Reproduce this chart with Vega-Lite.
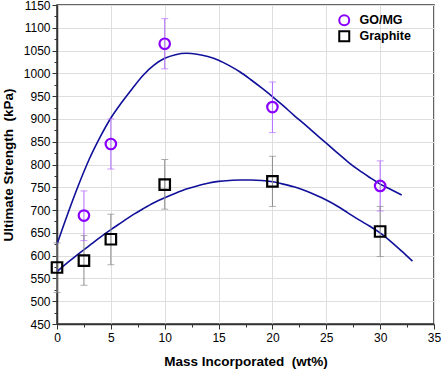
{
  "$schema": "https://vega.github.io/schema/vega-lite/v6.json",
  "width": 377,
  "height": 319,
  "autosize": {"type": "none"},
  "padding": {"left": 57, "top": 5, "right": 7, "bottom": 47},
  "config": {
    "font": "Liberation Sans",
    "view": {"stroke": "#333333", "strokeWidth": 1.5},
    "axis": {
      "labelFont": "Liberation Sans",
      "labelFontSize": 12,
      "labelColor": "#000000",
      "titleFont": "Liberation Sans",
      "titleFontSize": 13.5,
      "titleFontWeight": "bold",
      "titleColor": "#000000",
      "domainColor": "#333333",
      "domainWidth": 1.5,
      "tickColor": "#333333",
      "tickWidth": 1,
      "gridColor": "#dedede",
      "gridWidth": 1
    }
  },
  "datasets": {
    "pts": [
      {"series": "GO/MG", "x": 2.5, "y": 688, "lo": 633, "hi": 742},
      {"series": "GO/MG", "x": 5, "y": 845, "lo": 790, "hi": 900},
      {"series": "GO/MG", "x": 10, "y": 1065, "lo": 1010, "hi": 1120},
      {"series": "GO/MG", "x": 20, "y": 926, "lo": 870, "hi": 981},
      {"series": "GO/MG", "x": 30, "y": 753, "lo": 698, "hi": 808},
      {"series": "Graphite", "x": 0, "y": 574, "lo": 519, "hi": 628},
      {"series": "Graphite", "x": 2.5, "y": 589, "lo": 535, "hi": 644},
      {"series": "Graphite", "x": 5, "y": 636, "lo": 580, "hi": 691},
      {"series": "Graphite", "x": 10, "y": 756, "lo": 702, "hi": 811},
      {"series": "Graphite", "x": 20, "y": 763, "lo": 708, "hi": 818},
      {"series": "Graphite", "x": 30, "y": 653, "lo": 598, "hi": 708}
    ],
    "fit": [
      {"curve": "GO/MG", "x": 0, "y": 625},
      {"curve": "GO/MG", "x": 1, "y": 692},
      {"curve": "GO/MG", "x": 2, "y": 755},
      {"curve": "GO/MG", "x": 3, "y": 812},
      {"curve": "GO/MG", "x": 4, "y": 860},
      {"curve": "GO/MG", "x": 5, "y": 902},
      {"curve": "GO/MG", "x": 6, "y": 936},
      {"curve": "GO/MG", "x": 7, "y": 967},
      {"curve": "GO/MG", "x": 8, "y": 996},
      {"curve": "GO/MG", "x": 9, "y": 1018},
      {"curve": "GO/MG", "x": 10, "y": 1033},
      {"curve": "GO/MG", "x": 11, "y": 1041},
      {"curve": "GO/MG", "x": 12, "y": 1044},
      {"curve": "GO/MG", "x": 13, "y": 1042},
      {"curve": "GO/MG", "x": 14, "y": 1037},
      {"curve": "GO/MG", "x": 15, "y": 1029},
      {"curve": "GO/MG", "x": 16, "y": 1017},
      {"curve": "GO/MG", "x": 17, "y": 1003},
      {"curve": "GO/MG", "x": 18, "y": 986},
      {"curve": "GO/MG", "x": 19, "y": 968},
      {"curve": "GO/MG", "x": 20, "y": 949},
      {"curve": "GO/MG", "x": 21, "y": 929},
      {"curve": "GO/MG", "x": 22, "y": 908},
      {"curve": "GO/MG", "x": 23, "y": 888},
      {"curve": "GO/MG", "x": 24, "y": 867},
      {"curve": "GO/MG", "x": 25, "y": 847},
      {"curve": "GO/MG", "x": 26, "y": 826},
      {"curve": "GO/MG", "x": 27, "y": 806},
      {"curve": "GO/MG", "x": 28, "y": 788},
      {"curve": "GO/MG", "x": 29, "y": 772},
      {"curve": "GO/MG", "x": 30, "y": 757},
      {"curve": "GO/MG", "x": 31, "y": 745},
      {"curve": "GO/MG", "x": 32, "y": 733},
      {"curve": "Graphite", "x": 0, "y": 565},
      {"curve": "Graphite", "x": 1, "y": 585},
      {"curve": "Graphite", "x": 2, "y": 604},
      {"curve": "Graphite", "x": 3, "y": 622},
      {"curve": "Graphite", "x": 4, "y": 640},
      {"curve": "Graphite", "x": 5, "y": 657},
      {"curve": "Graphite", "x": 6, "y": 673},
      {"curve": "Graphite", "x": 7, "y": 689},
      {"curve": "Graphite", "x": 8, "y": 703},
      {"curve": "Graphite", "x": 9, "y": 716},
      {"curve": "Graphite", "x": 10, "y": 727},
      {"curve": "Graphite", "x": 11, "y": 737},
      {"curve": "Graphite", "x": 12, "y": 746},
      {"curve": "Graphite", "x": 13, "y": 753},
      {"curve": "Graphite", "x": 14, "y": 759},
      {"curve": "Graphite", "x": 15, "y": 763},
      {"curve": "Graphite", "x": 16, "y": 765},
      {"curve": "Graphite", "x": 17, "y": 766},
      {"curve": "Graphite", "x": 18, "y": 766},
      {"curve": "Graphite", "x": 19, "y": 765},
      {"curve": "Graphite", "x": 20, "y": 762},
      {"curve": "Graphite", "x": 21, "y": 757},
      {"curve": "Graphite", "x": 22, "y": 751},
      {"curve": "Graphite", "x": 23, "y": 743},
      {"curve": "Graphite", "x": 24, "y": 733},
      {"curve": "Graphite", "x": 25, "y": 722},
      {"curve": "Graphite", "x": 26, "y": 709},
      {"curve": "Graphite", "x": 27, "y": 694},
      {"curve": "Graphite", "x": 28, "y": 679},
      {"curve": "Graphite", "x": 29, "y": 665},
      {"curve": "Graphite", "x": 30, "y": 650},
      {"curve": "Graphite", "x": 31, "y": 631},
      {"curve": "Graphite", "x": 32, "y": 610},
      {"curve": "Graphite", "x": 33, "y": 588}
    ]
  },
  "encoding": {
    "x": {
      "field": "x",
      "type": "quantitative",
      "scale": {"domain": [0, 35], "nice": false},
      "axis": {
        "title": "Mass Incorporated\u00a0 (wt%)",
        "values": [0, 2.5, 5, 7.5, 10, 12.5, 15, 17.5, 20, 22.5, 25, 27.5, 30, 32.5, 35],
        "labelExpr": "datum.value % 5 === 0 ? datum.label : ''",
        "tickSize": {"condition": {"test": "datum.value % 5 === 0", "value": 5}, "value": 3},
        "gridOpacity": {"condition": {"test": "datum.value % 5 === 0", "value": 1}, "value": 0},
        "labelPadding": 3,
        "labelFlush": false,
        "titlePadding": 11
      }
    },
    "y": {
      "field": "y",
      "type": "quantitative",
      "scale": {"domain": [450, 1150], "nice": false, "zero": false},
      "axis": {
        "title": "Ultimate Strength\u00a0 (kPa)",
        "values": [450, 475, 500, 525, 550, 575, 600, 625, 650, 675, 700, 725, 750, 775, 800, 825, 850, 875, 900, 925, 950, 975, 1000, 1025, 1050, 1075, 1100, 1125, 1150],
        "labelExpr": "datum.value % 50 === 0 ? datum.label : ''",
        "format": "d",
        "tickSize": {"condition": {"test": "datum.value % 50 === 0", "value": 5}, "value": 3},
        "gridOpacity": {"condition": {"test": "datum.value % 50 === 0", "value": 1}, "value": 0},
        "labelPadding": 2,
        "labelFlush": false,
        "titlePadding": 8
      }
    }
  },
  "layer": [
    {
      "data": {"name": "fit"},
      "mark": {"type": "line", "color": "#10109a", "strokeWidth": 1.6, "interpolate": "monotone"},
      "encoding": {"detail": {"field": "curve"}}
    },
    {
      "data": {"name": "pts"},
      "mark": {"type": "rule", "strokeWidth": 1},
      "encoding": {
        "y": {"field": "lo", "type": "quantitative"},
        "y2": {"field": "hi"},
        "color": {"condition": {"test": "datum.series === 'GO/MG'", "value": "#b36bff"}, "value": "#8c8c8c"}
      }
    },
    {
      "data": {"name": "pts"},
      "mark": {"type": "tick", "orient": "horizontal", "size": 7, "thickness": 1},
      "encoding": {
        "y": {"field": "lo", "type": "quantitative"},
        "color": {"condition": {"test": "datum.series === 'GO/MG'", "value": "#b36bff"}, "value": "#8c8c8c"}
      }
    },
    {
      "data": {"name": "pts"},
      "mark": {"type": "tick", "orient": "horizontal", "size": 7, "thickness": 1},
      "encoding": {
        "y": {"field": "hi", "type": "quantitative"},
        "color": {"condition": {"test": "datum.series === 'GO/MG'", "value": "#b36bff"}, "value": "#8c8c8c"}
      }
    },
    {
      "data": {"name": "pts"},
      "mark": {"type": "point", "filled": false, "strokeWidth": 2.2, "size": 110, "opacity": 1},
      "encoding": {
        "shape": {
          "field": "series",
          "type": "nominal",
          "scale": {"domain": ["GO/MG", "Graphite"], "range": ["circle", "square"]},
          "legend": {
            "title": null,
            "orient": "none",
            "legendX": 281,
            "legendY": 9,
            "labelFont": "Liberation Sans",
            "labelFontSize": 12.5,
            "labelFontWeight": "bold",
            "labelColor": "#000000",
            "symbolSize": 100,
            "symbolStrokeWidth": 2,
            "rowPadding": -3,
            "labelOffset": 9,
            "padding": 0
          }
        },
        "color": {
          "field": "series",
          "type": "nominal",
          "scale": {"domain": ["GO/MG", "Graphite"], "range": ["#8a00ff", "#000000"]},
          "legend": {
            "title": null,
            "orient": "none",
            "legendX": 281,
            "legendY": 9,
            "labelFont": "Liberation Sans",
            "labelFontSize": 12.5,
            "labelFontWeight": "bold",
            "labelColor": "#000000",
            "symbolSize": 100,
            "symbolStrokeWidth": 2,
            "rowPadding": -3,
            "labelOffset": 9,
            "padding": 0
          }
        }
      }
    }
  ]
}
